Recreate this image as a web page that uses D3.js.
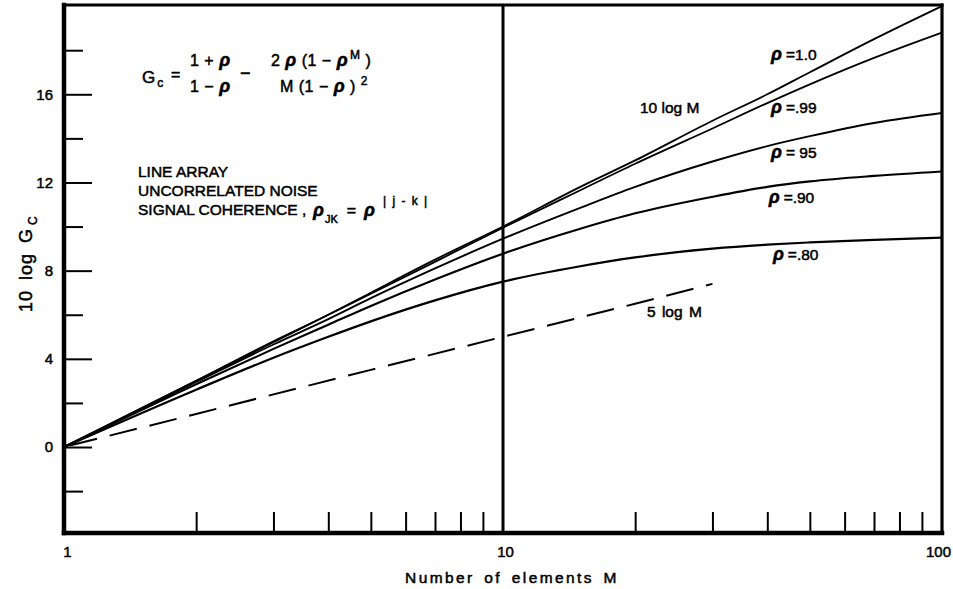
<!DOCTYPE html>
<html>
<head>
<meta charset="utf-8">
<script src="https://cdn.jsdelivr.net/npm/d3@7"></script>
<style>
  html, body { margin: 0; padding: 0; background: #fff; }
  svg { display: block; }
  text { font-family: "Liberation Sans", Arial, Helvetica, sans-serif; fill: #000; }
  .t { stroke: #000; stroke-width: 0.5px; }
</style>
</head>
<body>
<svg id="chart" width="953" height="589"></svg>
<script>
// ---------- data ----------
const elementsM = [1, 2, 3, 4, 5, 7, 10, 15, 20, 30, 40, 50, 70, 100];
const rho100 = [0, 3.0, 4.8, 6.0, 7.0, 8.5, 10.0, 11.8, 13.0, 14.8, 16.0, 17.0, 18.5, 20.0];
const rho099 = [0, 3.0, 4.75, 6.0, 6.95, 8.4, 9.95, 11.65, 12.85, 14.45, 15.6, 16.45, 17.65, 18.8];
const rho095 = [0, 2.95, 4.65, 5.8, 6.75, 8.1, 9.45, 10.85, 11.8, 12.95, 13.65, 14.1, 14.7, 15.15];
const rho090 = [0, 2.85, 4.45, 5.55, 6.4, 7.6, 8.77, 9.9, 10.6, 11.35, 11.8, 12.05, 12.3, 12.5];
const rho080 = [0, 2.6, 4.05, 5.0, 5.7, 6.65, 7.5, 8.2, 8.6, 9.0, 9.18, 9.28, 9.4, 9.5];
const dashM = [1, 2, 5, 10, 20, 30];
const dash5logM = [0, 1.5, 3.5, 5.0, 6.5, 7.4];

const yTicksMinor = [-2, 2, 6, 10, 14, 18];
const yTicksMajor = [0, 4, 8, 12, 16];
const xTicksMinor = [2, 3, 4, 5, 6, 7, 8, 9, 20, 30, 40, 50, 60, 70, 80, 90];
const xTickLabels = [1, 10, 100];

const curveLabels = [
  { text: "=1.0", M: 40.8, v: 17.55 },
  { text: "=.99", M: 40.8, v: 15.15 },
  { text: "= 95", M: 40.8, v: 13.1 },
  { text: "=.90", M: 40.3, v: 11.07 },
  { text: "=.80", M: 41.2, v: 8.48 }
];

// ---------- layout ----------
const svg = d3.select("#chart");
const L = 64, R = 942, T = 5, B = 533;
const x = d3.scaleLog().domain([1, 100]).range([L, R]);
const y = d3.scaleLinear().domain([-3.9, 20.05]).range([B, T]);

// curves
const line = d3.line().x(d => x(d[0])).y(d => y(d[1])).curve(d3.curveMonotoneX);
const series = [
  { v: rho100, w: 1.8 },
  { v: rho099, w: 1.8 },
  { v: rho095, w: 1.9 },
  { v: rho090, w: 2.1 },
  { v: rho080, w: 2.2 }
];
series.forEach(s => {
  svg.append("path")
    .datum(elementsM.map((m, i) => [m, s.v[i]]))
    .attr("d", line)
    .attr("fill", "none")
    .attr("stroke", "#000")
    .attr("stroke-width", s.w);
});
svg.append("path")
  .datum(dashM.map((m, i) => [m, dash5logM[i]]))
  .attr("d", d3.line().x(d => x(d[0])).y(d => y(d[1])))
  .attr("fill", "none")
  .attr("stroke", "#000")
  .attr("stroke-width", 2)
  .attr("stroke-dasharray", "28,13")
  .attr("stroke-dashoffset", -6);

// vertical line at M = 10
svg.append("line")
  .attr("x1", x(10)).attr("x2", x(10))
  .attr("y1", T).attr("y2", B)
  .attr("stroke", "#000").attr("stroke-width", 3);

// ticks (inward)
function styleAxis(g) {
  g.select(".domain").remove();
  g.selectAll(".tick line").attr("stroke", "#000").attr("stroke-width", 2);
}
svg.append("g").attr("transform", `translate(${L},0)`)
  .call(d3.axisRight(y).tickValues(yTicksMinor).tickSize(19).tickFormat(""))
  .call(styleAxis);
svg.append("g").attr("transform", `translate(${L},0)`)
  .call(d3.axisRight(y).tickValues(yTicksMajor).tickSize(28).tickFormat(""))
  .call(styleAxis);
svg.append("g").attr("transform", `translate(0,${B})`)
  .call(d3.axisTop(x).tickValues(xTicksMinor).tickSize(21).tickFormat(""))
  .call(styleAxis);

// tick labels
const yLab = svg.append("g").attr("transform", `translate(${L},0)`)
  .call(d3.axisLeft(y).tickValues(yTicksMajor).tickSize(0).tickPadding(11).tickFormat(d3.format("d")));
yLab.select(".domain").remove();
yLab.selectAll("text").attr("font-size", 15).attr("class", "t")
  .style("font-family", "'Liberation Sans', Arial, sans-serif");

const xLab = svg.append("g").attr("transform", `translate(0,${B})`)
  .call(d3.axisBottom(x).tickValues(xTickLabels).tickSize(0).tickPadding(13).tickFormat(d3.format("d")));
xLab.select(".domain").remove();
xLab.selectAll("text").attr("font-size", 15).attr("class", "t")
  .attr("dx", d => d === 1 ? 3 : (d === 100 ? -4 : 2))
  .style("font-family", "'Liberation Sans', Arial, sans-serif");

// frame
const frame = svg.append("g").attr("stroke", "#000").attr("stroke-linecap", "square");
frame.append("line").attr("x1", L).attr("x2", R).attr("y1", T).attr("y2", T).attr("stroke-width", 3);
frame.append("line").attr("x1", L).attr("x2", R).attr("y1", B).attr("y2", B).attr("stroke-width", 4.5);
frame.append("line").attr("x1", L).attr("x2", L).attr("y1", T).attr("y2", B).attr("stroke-width", 4.5);
frame.append("line").attr("x1", R).attr("x2", R).attr("y1", T).attr("y2", B).attr("stroke-width", 3.2);

// axis titles
svg.append("text").attr("class", "t")
  .attr("x", 512).attr("y", 583)
  .attr("text-anchor", "middle")
  .attr("font-size", 15.5)
  .attr("letter-spacing", "2.4px")
  .attr("word-spacing", "3px")
  .text("Number of elements M");

const yt = svg.append("text").attr("class", "t")
  .attr("transform", "translate(32,312) rotate(-90)")
  .attr("font-size", 18)
  .attr("letter-spacing", "1px")
  .attr("word-spacing", "4px");
yt.append("tspan").text("10 log G");
yt.append("tspan").attr("font-size", 12).attr("dy", 5).attr("dx", 3).text("C");

// curve labels
curveLabels.forEach(c => {
  const t = svg.append("text").attr("class", "t")
    .attr("x", x(c.M)).attr("y", y(c.v)).attr("font-size", 15.5);
  t.append("tspan").attr("font-size", 18).attr("font-style", "italic").attr("font-weight", "bold").text("ρ");
  t.append("tspan").attr("dx", 4).text(c.text);
});
svg.append("text").attr("class", "t")
  .attr("x", 640).attr("y", 113)
  .attr("font-size", 15.5).text("10 log M");
svg.append("text").attr("class", "t")
  .attr("x", 647).attr("y", 317)
  .attr("font-size", 15.5).attr("word-spacing", "2px").text("5 log M");

// notes
const notes = ["LINE ARRAY", "UNCORRELATED NOISE", "SIGNAL COHERENCE ,"];
notes.forEach((n, i) => {
  svg.append("text").attr("class", "t")
    .attr("x", 138).attr("y", 177 + i * 19)
    .attr("font-size", 15.5).text(n);
});
const rho1 = svg.append("text").attr("class", "t").attr("x", 313).attr("y", 216).attr("font-size", 18);
rho1.append("tspan").attr("font-style", "italic").attr("font-weight", "bold").text("ρ");
rho1.append("tspan").attr("font-size", 11).attr("dy", 7).attr("dx", 1).text("JK");
rho1.append("tspan").attr("font-size", 16).attr("dy", -7).attr("dx", 9).text("=");
rho1.append("tspan").attr("font-style", "italic").attr("font-weight", "bold").attr("dx", 8).text("ρ");
rho1.append("tspan").attr("font-size", 12).attr("dy", -11).attr("dx", 8)
  .attr("letter-spacing", "1.5px").text("| j - k |");

// formula
const fs = 16;
svg.append("text").attr("class", "t").attr("x", 142).attr("y", 83).attr("font-size", 17)
  .call(t => {
    t.append("tspan").text("G");
    t.append("tspan").attr("font-size", 12).attr("dy", 4).attr("dx", 2).text("c");
  });
svg.append("text").attr("class", "t").attr("x", 171).attr("y", 80).attr("font-size", fs).text("=");
function rhoText(x0, y0, parts) {
  const t = svg.append("text").attr("class", "t").attr("x", x0).attr("y", y0)
    .attr("font-size", fs).attr("letter-spacing", "0.5px");
  parts.forEach(p => {
    const s = t.append("tspan").text(p.s);
    if (p.rho) s.attr("font-style", "italic").attr("font-weight", "bold").attr("font-size", 18);
    if (p.sup) s.attr("font-size", 12);
    if (p.dy) s.attr("dy", p.dy);
    if (p.dx) s.attr("dx", p.dx);
  });
  return t;
}
rhoText(190, 66, [{ s: "1 + " }, { s: "ρ", rho: true }]);
rhoText(190, 92, [{ s: "1 − " }, { s: "ρ", rho: true }]);
svg.append("text").attr("class", "t").attr("x", 240).attr("y", 79).attr("font-size", 18).text("−");
rhoText(271, 66, [{ s: "2 " }, { s: "ρ", rho: true }, { s: " (1 − " }, { s: "ρ", rho: true },
  { s: "M", sup: true, dy: -7, dx: 2 }, { s: " )", dy: 7 }]);
rhoText(280, 92, [{ s: "M   (1 − " }, { s: "ρ", rho: true }, { s: " )" }, { s: " 2", sup: true, dy: -7, dx: 1 }]);
</script>
</body>
</html>
